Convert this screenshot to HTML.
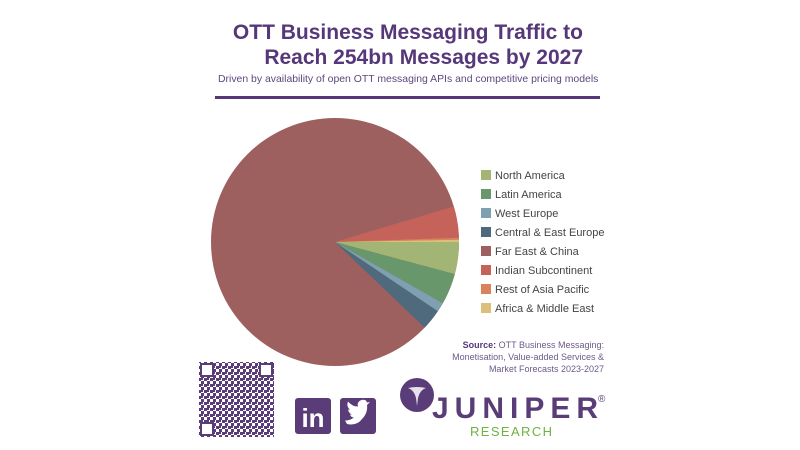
<!DOCTYPE html>
<html><head><meta charset="utf-8"><style>
body{margin:0;width:800px;height:450px;background:#fff;position:relative;overflow:hidden;font-family:"Liberation Sans",sans-serif;}
.t{position:absolute;right:217px;text-align:right;color:#56387a;font-weight:bold;font-size:21px;line-height:25px;top:20px;}
.sub{position:absolute;left:218px;top:74px;font-size:10.45px;color:#5d477e;white-space:nowrap;}
.hr{position:absolute;left:215px;top:96px;width:385px;height:3px;background:#56387a;}
.lg{position:absolute;left:481px;font-size:11px;color:#444;}
.lg span{display:inline-block;width:10px;height:10px;margin-right:4px;vertical-align:-1px;}
.src{position:absolute;right:196px;top:339px;text-align:right;font-size:9px;line-height:12px;color:#6c5a8a;}
</style></head><body>
<div class="t">OTT Business Messaging Traffic to<br>Reach 254bn Messages by 2027</div>
<div class="sub">Driven by availability of open OTT messaging APIs and competitive pricing models</div>
<div class="hr"></div>
<svg width="800" height="450" style="position:absolute;left:0;top:0">
<defs><pattern id="qr" width="6" height="6" patternUnits="userSpaceOnUse"><rect width="6" height="6" fill="#fff"/><rect width="3" height="3" fill="#5a3d78"/><rect x="3" y="3" width="3" height="3" fill="#5a3d78"/><rect x="3" y="0" width="2" height="2" fill="#5a3d78"/></pattern></defs>
<g transform="translate(335,242)">
<circle r="124" fill="#9e5f5f"/>
<path d="M0 0 L124 0 A124 124 0 0 1 119.8 32.1Z" fill="#a3b575"/>
<path d="M0 0 L119.8 32.1 A124 124 0 0 1 107.8 61.3Z" fill="#67976b"/>
<path d="M0 0 L107.8 61.3 A124 124 0 0 1 102.8 69.3Z" fill="#7fa0b0"/>
<path d="M0 0 L102.8 69.3 A124 124 0 0 1 89.7 85.6Z" fill="#4f6a7c"/>
<path d="M0 0 L118.8 -35.6 A124 124 0 0 1 123.9 -4.3Z" fill="#c5635a"/>
<path d="M0 0 L123.9 -4.3 A124 124 0 0 1 124 -2.2Z" fill="#d8835a"/>
<path d="M0 0 L124 -2.2 A124 124 0 0 1 124 0Z" fill="#dcc07a"/>
</g>
<rect x="199" y="362" width="75" height="75" fill="url(#qr)"/>
<rect x="201" y="364" width="12" height="12" fill="#fff" stroke="#5a3d78" stroke-width="2"/>
<rect x="260" y="364" width="12" height="12" fill="#fff" stroke="#5a3d78" stroke-width="2"/>
<rect x="201" y="423" width="12" height="12" fill="#fff" stroke="#5a3d78" stroke-width="2"/>
<rect x="295" y="398" width="36" height="36" rx="3" fill="#5a3d78"/>
<text x="313" y="427" text-anchor="middle" font-family="Liberation Sans" font-weight="bold" font-size="26" fill="#fff">in</text>
<rect x="340" y="398" width="36" height="36" rx="3" fill="#5a3d78"/>
<path d="M347 424 q10 2 15 -5 q6 -6 5 -14 l3 -3 -3 0.5 -1 -2 q-4 -2 -7 1 q-2 2 -1 5 q-6 0 -10 -5 q-2 5 2 8 l-2 0 q1 4 4 5 l-2 0 q1 3 4 3 q-4 3 -9 3z" fill="#fff"/>
<circle cx="417" cy="395" r="17" fill="#5a3d78"/>
<path d="M408 388 q9 -2 18 0 q-6 2 -8 10 l-1 8 -1 -8 q-2 -8 -8 -10z" fill="#fff" opacity="0.85"/>
<text x="432" y="418" font-family="Liberation Sans" font-weight="bold" font-size="30" fill="#5a3d78" textLength="166" lengthAdjust="spacing">JUNIPER</text>
<text x="598" y="402" font-family="Liberation Sans" font-size="10" fill="#5a3d78">®</text>
<text x="470" y="436" font-family="Liberation Sans" font-size="13" fill="#6db33f" textLength="82" lengthAdjust="spacing">RESEARCH</text>
</svg>
<div class="lg" style="top:170px"><span style="background:#a3b575"></span>North America</div>
<div class="lg" style="top:189px"><span style="background:#67976b"></span>Latin America</div>
<div class="lg" style="top:208px"><span style="background:#7fa0b0"></span>West Europe</div>
<div class="lg" style="top:227px"><span style="background:#4f6a7c"></span>Central &amp; East Europe</div>
<div class="lg" style="top:246px"><span style="background:#9e5f5f"></span>Far East &amp; China</div>
<div class="lg" style="top:265px"><span style="background:#c5635a"></span>Indian Subcontinent</div>
<div class="lg" style="top:284px"><span style="background:#d8835a"></span>Rest of Asia Pacific</div>
<div class="lg" style="top:303px"><span style="background:#dcc07a"></span>Africa &amp; Middle East</div>
<div class="src"><b style="color:#56387a">Source:</b> OTT Business Messaging:<br>Monetisation, Value-added Services &amp;<br>Market Forecasts 2023-2027</div>
</body></html>
